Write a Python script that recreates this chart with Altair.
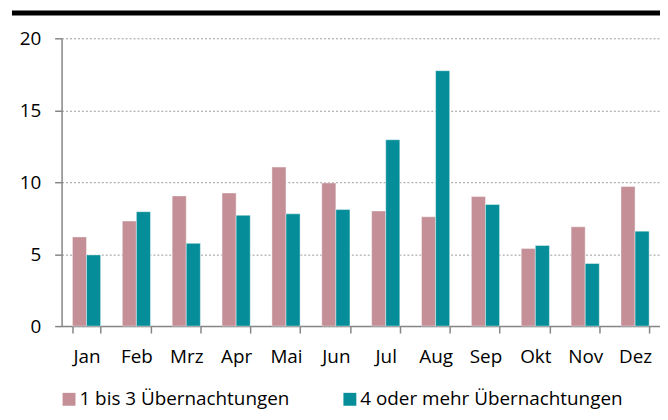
import altair as alt
import pandas as pd

months = ["Jan", "Feb", "Mrz", "Apr", "Mai", "Jun", "Jul", "Aug", "Sep", "Okt", "Nov", "Dez"]
short_stay = [6.2, 7.3, 9.05, 9.25, 11.05, 9.95, 8.0, 7.6, 9.0, 5.4, 6.9, 9.7]
long_stay = [4.95, 7.95, 5.75, 7.7, 7.8, 8.1, 12.95, 17.75, 8.45, 5.6, 4.35, 6.6]
series = ["1 bis 3 Übernachtungen", "4 oder mehr Übernachtungen"]
colors = ["#C48F97", "#058E99"]
y_ticks = [0, 5, 10, 15, 20]

rows = []
for m, a, b in zip(months, short_stay, long_stay):
    rows.append({"Monat": m, "Serie": series[0], "Wert": a})
    rows.append({"Monat": m, "Serie": series[1], "Wert": b})
df = pd.DataFrame(rows)

FONT = "Open Sans"

bars = alt.Chart(df).mark_bar(stroke="white", strokeWidth=0.6, strokeOpacity=0.7).encode(
    x=alt.X(
        "Monat:N",
        sort=months,
        scale=alt.Scale(paddingInner=0.435, paddingOuter=0.2175),
        axis=alt.Axis(
            title=None, labelAngle=0, tickBand="extent", tickSize=7,
            labelPadding=15, labelFontSize=19, grid=False,
        ),
    ),
    xOffset=alt.XOffset("Serie:N", sort=series,
                        scale=alt.Scale(paddingInner=0, paddingOuter=0)),
    y=alt.Y(
        "Wert:Q",
        scale=alt.Scale(domain=[0, 20], nice=False, zero=True),
        axis=alt.Axis(
            title=None, values=y_ticks, tickSize=7, labelPadding=14,
            labelFontSize=19, grid=True, gridDash=[2, 2], gridColor="#9A9A9A",
            gridWidth=1,
        ),
    ),
    color=alt.Color(
        "Serie:N",
        sort=series,
        scale=alt.Scale(domain=series, range=colors),
        legend=alt.Legend(
            title=None, orient="none", legendX=-2, legendY=354,
            direction="horizontal", symbolType="square", symbolSize=169,
            symbolStrokeWidth=0, labelFontSize=19, labelOffset=1,
            columnPadding=51, labelLimit=400, labelColor="black",
        ),
    ),
)

top_bar = alt.Chart(pd.DataFrame({"k": [0]})).mark_rule(color="black", strokeWidth=5).encode(
    x=alt.value(-50), x2=alt.value(603), y=alt.value(-25.5)
)

chart = alt.layer(bars, top_bar).properties(
    width=603,
    height=290,
    autosize=alt.AutoSizeParams(type="none"),
    padding={"left": 54, "top": 29, "right": 0, "bottom": 84},
).configure_view(stroke=None).configure_axis(
    domainColor="#868686", domainWidth=1.5, tickColor="#868686", tickWidth=1.5,
    labelFont=FONT, labelColor="black",
).configure_legend(labelFont=FONT)

chart.save("out.html", embed_options={"renderer": "svg", "actions": False})
